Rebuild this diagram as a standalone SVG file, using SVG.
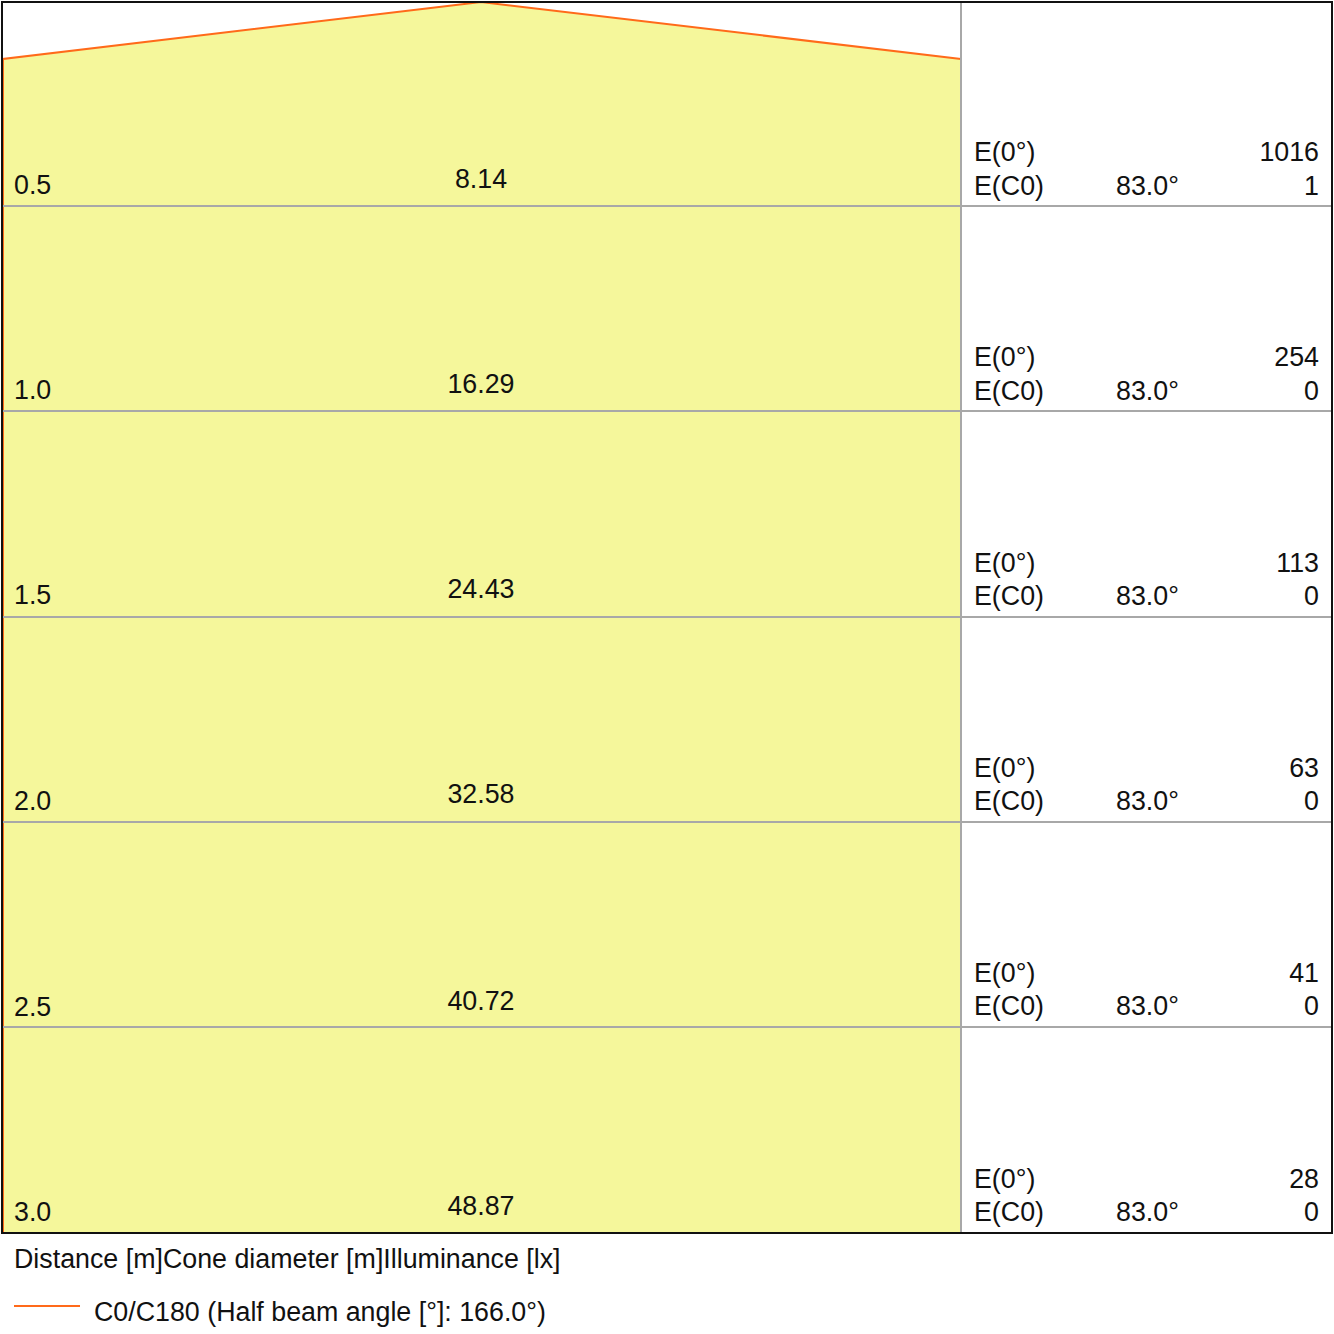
<svg xmlns="http://www.w3.org/2000/svg" width="1334" height="1334" viewBox="0 0 1334 1334">
<style>
text{font-family:"Liberation Sans",Arial,sans-serif;font-size:26.8px;fill:#111}
.c{text-anchor:middle}
.r{text-anchor:end}
.grid{stroke:#a8a8a8;stroke-width:2;fill:none}
.beam{stroke:#ff6a1a;stroke-width:2;fill:none}
</style>
<rect x="0" y="0" width="1334" height="1334" fill="#fff"/>
<g id="cone">
<polygon points="2,59 481,2 961,59 961,1233 2,1233" fill="#f5f79b"/>
</g>
<g id="connectors">
<polyline class="beam" points="3,1233 3,59 481,2 961,59"/>
<line class="grid" x1="961" y1="2" x2="961" y2="1233"/>
<line class="grid" x1="2" y1="206" x2="1332" y2="206"/>
<line class="grid" x1="2" y1="411" x2="1332" y2="411"/>
<line class="grid" x1="2" y1="617" x2="1332" y2="617"/>
<line class="grid" x1="2" y1="822" x2="1332" y2="822"/>
<line class="grid" x1="2" y1="1027" x2="1332" y2="1027"/>
<rect x="2" y="2" width="1330" height="1231" fill="none" stroke="#111" stroke-width="2"/>
<line class="beam" x1="14" y1="1306" x2="80" y2="1306"/>
</g>
<g id="row1">
<text x="14" y="194">0.5</text><text class="c" x="481" y="188">8.14</text>
<text x="974" y="161">E(0°)</text><text class="r" x="1319" y="161">1016</text>
<text x="974" y="195">E(C0)</text><text x="1116" y="195">83.0°</text><text class="r" x="1319" y="195">1</text>
</g>
<g id="row2">
<text x="14" y="399">1.0</text><text class="c" x="481" y="393">16.29</text>
<text x="974" y="366">E(0°)</text><text class="r" x="1319" y="366">254</text>
<text x="974" y="400">E(C0)</text><text x="1116" y="400">83.0°</text><text class="r" x="1319" y="400">0</text>
</g>
<g id="row3">
<text x="14" y="604">1.5</text><text class="c" x="481" y="598">24.43</text>
<text x="974" y="572">E(0°)</text><text class="r" x="1319" y="572">113</text>
<text x="974" y="605">E(C0)</text><text x="1116" y="605">83.0°</text><text class="r" x="1319" y="605">0</text>
</g>
<g id="row4">
<text x="14" y="810">2.0</text><text class="c" x="481" y="803">32.58</text>
<text x="974" y="777">E(0°)</text><text class="r" x="1319" y="777">63</text>
<text x="974" y="810">E(C0)</text><text x="1116" y="810">83.0°</text><text class="r" x="1319" y="810">0</text>
</g>
<g id="row5">
<text x="14" y="1016">2.5</text><text class="c" x="481" y="1010">40.72</text>
<text x="974" y="982">E(0°)</text><text class="r" x="1319" y="982">41</text>
<text x="974" y="1015">E(C0)</text><text x="1116" y="1015">83.0°</text><text class="r" x="1319" y="1015">0</text>
</g>
<g id="row6">
<text x="14" y="1221">3.0</text><text class="c" x="481" y="1215">48.87</text>
<text x="974" y="1188">E(0°)</text><text class="r" x="1319" y="1188">28</text>
<text x="974" y="1221">E(C0)</text><text x="1116" y="1221">83.0°</text><text class="r" x="1319" y="1221">0</text>
</g>
<g id="legend">
<text x="14" y="1268">Distance [m]Cone diameter [m]Illuminance [lx]</text>
<text x="94" y="1321">C0/C180 (Half beam angle [°]: 166.0°)</text>
</g>
</svg>
